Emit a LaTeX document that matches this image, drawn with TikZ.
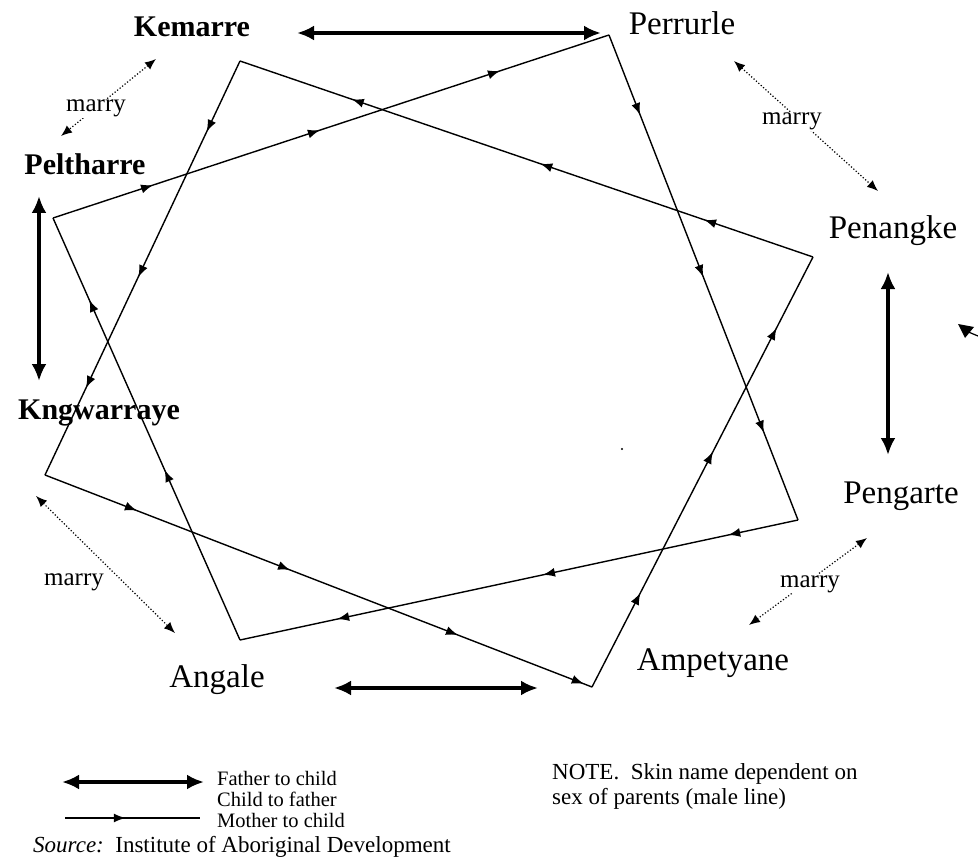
\documentclass[tikz,border=0pt]{standalone}
\usepackage{fontspec}
\setmainfont{Liberation Serif}
\usetikzlibrary{arrows.meta,decorations.markings}
\newcommand\mtip{\arrow{Latex[length=12pt,width=9pt]}}
\tikzset{
  lbl/.style={font=\fontsize{33}{36}\selectfont, inner sep=0pt, anchor=base},
  lblb/.style={font=\bfseries\fontsize{30}{34}\selectfont, inner sep=0pt, anchor=base},
  small/.style={font=\fontsize{23}{26}\selectfont, inner sep=0pt, anchor=base west},
  legendtxt/.style={font=\fontsize{20.5}{22}\selectfont, inner sep=0pt, anchor=base west},
  marrylbl/.style={font=\fontsize{25}{27}\selectfont, inner sep=1pt, anchor=base, fill=white},
  kin/.style={line width=1.4pt, line join=miter},
  fatherarrow/.style={line width=3.6pt, {Latex[length=17pt,width=15pt]}-{Latex[length=17pt,width=15pt]}},
  marryarrow/.style={line width=1.2pt, dotted, {Latex[length=11pt,width=9pt]}-{Latex[length=11pt,width=9pt]}},
}
\begin{document}
\begin{tikzpicture}[x=1pt,y=-1pt]
\useasboundingbox (0,0) rectangle (978,864);
% ---- labels
\node[lblb] (kem) at (192,37) {Kemarre};
\node[lbl]  (per) at (682,35) {Perrurle};
\node[lblb] (pel) at (85,175) {Peltharre};
\node[lbl]  (pen) at (893,239) {Penangke};
\node[lblb] (kng) at (99,419) {Kngwarraye};
\node[lbl]  (peg) at (901,503) {Pengarte};
\node[lbl]  (ang) at (217,687) {Angale};
\node[lbl]  (amp) at (713,670) {Ampetyane};
% ---- square A corners
\coordinate (A1) at (240,61);
\coordinate (A2) at (813,257);
\coordinate (A3) at (592,687);
\coordinate (A4) at (45,475);
% ---- square B corners
\coordinate (B1) at (53,218);
\coordinate (B2) at (609,35);
\coordinate (B3) at (798,520);
\coordinate (B4) at (240,640);
% ---- square A sides
\draw[kin, postaction={decorate, decoration={markings,
  mark=at position 0.19 with {\mtip}, mark=at position 0.476 with {\mtip},
  mark=at position 0.805 with {\mtip}}}] (A2) -- (A1);
\draw[kin, postaction={decorate, decoration={markings,
  mark=at position 0.171 with {\mtip}, mark=at position 0.522 with {\mtip},
  mark=at position 0.79 with {\mtip}}}] (A1) -- (A4);
\draw[kin, postaction={decorate, decoration={markings,
  mark=at position 0.168 with {\mtip}, mark=at position 0.448 with {\mtip},
  mark=at position 0.755 with {\mtip}, mark=at position 0.985 with {\mtip}}}] (A4) -- (A3);
\draw[kin, postaction={decorate, decoration={markings,
  mark=at position 0.219 with {\mtip}, mark=at position 0.547 with {\mtip},
  mark=at position 0.835 with {\mtip}}}] (A3) -- (A2);
% ---- square B sides
\draw[kin, postaction={decorate, decoration={markings,
  mark=at position 0.18 with {\mtip}, mark=at position 0.48 with {\mtip},
  mark=at position 0.804 with {\mtip}}}] (B1) -- (B2);
\draw[kin, postaction={decorate, decoration={markings,
  mark=at position 0.165 with {\mtip}, mark=at position 0.499 with {\mtip},
  mark=at position 0.82 with {\mtip}}}] (B2) -- (B3);
\draw[kin, postaction={decorate, decoration={markings,
  mark=at position 0.125 with {\mtip}, mark=at position 0.457 with {\mtip},
  mark=at position 0.826 with {\mtip}}}] (B3) -- (B4);
\draw[kin, postaction={decorate, decoration={markings,
  mark=at position 0.403 with {\mtip}, mark=at position 0.806 with {\mtip}}}] (B4) -- (B1);
% ---- father/child thick arrows
\coordinate (f1a) at (297,33);  \coordinate (f1b) at (601,33);
\coordinate (f2a) at (39,196);  \coordinate (f2b) at (39,381);
\coordinate (f3a) at (888,272); \coordinate (f3b) at (888,455);
\coordinate (f4a) at (334,688); \coordinate (f4b) at (538,688);
\draw[fatherarrow] (f1a) -- (f1b);
\draw[fatherarrow] (f2a) -- (f2b);
\draw[fatherarrow] (f3a) -- (f3b);
\draw[fatherarrow] (f4a) -- (f4b);
% ---- marry dotted arrows
\coordinate (m1a) at (156,59);  \coordinate (m1b) at (61,136);
\coordinate (m2a) at (734,61);  \coordinate (m2b) at (878,191);
\coordinate (m3a) at (36,496);  \coordinate (m3b) at (175,633);
\coordinate (m4a) at (867,538); \coordinate (m4b) at (749,625);
\draw[marryarrow] (m1a) -- (m1b);
\draw[marryarrow] (m2a) -- (m2b);
\draw[marryarrow] (m3a) -- (m3b);
\draw[marryarrow] (m4a) -- (m4b);
\node[marrylbl] (mar1) at (96,112) {marry};
\node[marrylbl] (mar2) at (792,125) {marry};
\node[marrylbl] (mar3) at (74,585) {marry};
\node[marrylbl] (mar4) at (810,587) {marry};
% ---- stray marks
\fill (958,324) -- (974,327) -- (965,338) -- cycle;
\draw[line width=1.2pt] (966,331) -- (978,336);
\fill (622,449) circle (1.2);
% ---- legend
\coordinate (L1a) at (62,782);  \coordinate (L1b) at (204,782);
\coordinate (L2a) at (65,818);  \coordinate (L2b) at (200,818);
\draw[fatherarrow] (L1a) -- (L1b);
\draw[kin, postaction={decorate, decoration={markings,
  mark=at position 0.45 with {\mtip}}}] (L2a) -- (L2b);
\node[legendtxt] (lf) at (217,785) {Father to child};
\node[legendtxt] (lc) at (217,806) {Child to father};
\node[legendtxt] (lm) at (217,827) {Mother to child};
\node[small] (src) at (33,852) {\textit{Source:}\ \ Institute of Aboriginal Development};
\node[small] (n1) at (552,779) {NOTE.\ \ Skin name dependent on};
\node[small] (n2) at (552,804) {sex of parents (male line)};
\end{tikzpicture}
\end{document}
